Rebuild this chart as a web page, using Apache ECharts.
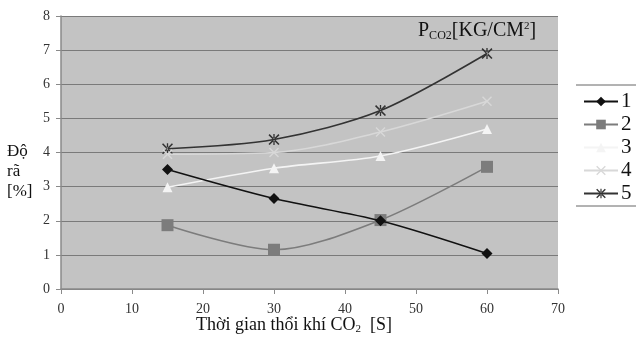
<!DOCTYPE html>
<html><head><meta charset="utf-8">
<script src="https://cdn.jsdelivr.net/npm/echarts@6/dist/echarts.min.js"></script>
<style>html,body{margin:0;padding:0;background:#fff}#c{width:640px;height:359px}</style>
</head><body><div id="c"></div>
<script>
const xValues = [15, 30, 45, 60];
const seriesNames = ['1', '2', '3', '4', '5'];
const s1 = [3.5, 2.65, 2.0, 1.04];
const s2 = [1.87, 1.15, 2.02, 3.58];
const s3 = [2.98, 3.54, 3.9, 4.69];
const s4 = [3.95, 4.0, 4.6, 5.5];
const s5 = [4.11, 4.38, 5.23, 6.9];
const xTicks = [0, 10, 20, 30, 40, 50, 60, 70];
const yTicks = [0, 1, 2, 3, 4, 5, 6, 7, 8];

const FONT = '"Liberation Serif", "DejaVu Serif", serif';
const xPath = 'path://M0,1 L1,0 L5,4 L9,0 L10,1 L6,5 L10,9 L9,10 L5,6 L1,10 L0,9 L4,5 Z';
const starPath = 'path://M0,1 L1,0 L5,4 L9,0 L10,1 L6,5 L10,9 L9,10 L5,6 L1,10 L0,9 L4,5 Z M4.4,0 L4.4,10 L5.6,10 L5.6,0 Z';

const styles = [
  {color: '#111111', symbol: 'diamond', size: 11},
  {color: '#7c7c7c', symbol: 'rect', size: 12},
  {color: '#f4f4f4', symbol: 'triangle', size: 10},
  {color: '#d8d8d8', symbol: xPath, size: 10},
  {color: '#333333', symbol: starPath, size: 11}
];
const allData = [s1, s2, s3, s4, s5];

const chart = echarts.init(document.getElementById('c'));
chart.setOption({
  animation: false,
  backgroundColor: '#ffffff',
  grid: {left: 61, right: 82, top: 16, bottom: 70, show: true, backgroundColor: '#c3c3c3', borderWidth: 0},
  xAxis: {
    type: 'value', min: xTicks[0], max: xTicks[xTicks.length - 1], interval: 10,
    axisLine: {show: true, lineStyle: {color: '#8a8a8a', width: 1.5}},
    axisTick: {show: true, length: 5, lineStyle: {color: '#8a8a8a'}},
    axisLabel: {color: '#333', fontFamily: FONT, fontSize: 14, margin: 13},
    splitLine: {show: false}
  },
  yAxis: {
    type: 'value', min: yTicks[0], max: yTicks[yTicks.length - 1], interval: 1,
    axisLine: {show: true, lineStyle: {color: '#8a8a8a', width: 1.5}},
    axisTick: {show: true, length: 5, lineStyle: {color: '#8a8a8a'}},
    axisLabel: {color: '#333', fontFamily: FONT, fontSize: 14, margin: 11},
    splitLine: {show: true, lineStyle: {color: '#7a7a7a', width: 1.2}}
  },
  legend: {
    orient: 'vertical', left: 578, top: 86, itemWidth: 34, itemHeight: 12, itemGap: 2,
    textStyle: {fontFamily: FONT, fontSize: 21, lineHeight: 19, color: '#111', padding: [0, 0, 0, -2]},
    data: seriesNames
  },
  series: allData.map((arr, i) => ({
    name: seriesNames[i], type: 'line', smooth: 0.3,
    data: xValues.map((x, j) => [x, arr[j]]),
    symbol: styles[i].symbol, symbolSize: styles[i].size,
    lineStyle: {color: styles[i].color, width: 1.6},
    itemStyle: {color: styles[i].color},
    z: 10 - i
  })),
  graphic: [
    {type: 'line', shape: {x1: 576, y1: 85, x2: 636, y2: 85}, style: {stroke: '#666', lineWidth: 1}},
    {type: 'line', shape: {x1: 576, y1: 206, x2: 636, y2: 206}, style: {stroke: '#666', lineWidth: 1}},
    {type: 'text', left: 418, top: 21, style: {
      text: '{a|P}{s|CO2}{a|[KG/CM}{u|2}{a|]}',
      rich: {
        a: {fontFamily: FONT, fontSize: 20, fill: '#111'},
        s: {fontFamily: FONT, fontSize: 12, fill: '#111', padding: [10, 0, 0, 0]},
        u: {fontFamily: FONT, fontSize: 11, fill: '#111', padding: [0, 0, 9, 0]}
      }
    }},
    {type: 'text', left: 196, top: 316, style: {
      text: '{a|Thời gian thổi khí CO}{s|2}{a|  [S]}',
      rich: {
        a: {fontFamily: FONT, fontSize: 18, fill: '#111'},
        s: {fontFamily: FONT, fontSize: 11, fill: '#111', padding: [9, 0, 0, 0]}
      }
    }},
    {type: 'text', left: 7, top: 142, style: {
      text: 'Độ\nrã\n[%]', fontFamily: FONT, fontSize: 17, fill: '#111', lineHeight: 20
    }}
  ]
});
</script></body></html>
